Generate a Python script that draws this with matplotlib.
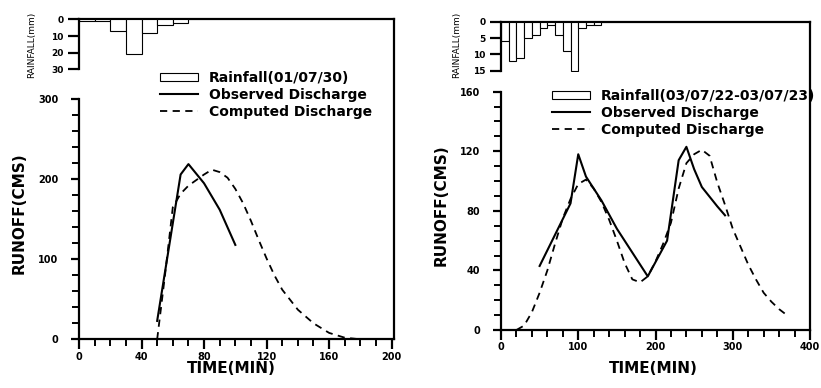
from matplotlib import pyplot as plt
import numpy as np

# event 1 (01/07/30)
rain_t1 = [0, 10, 20, 30, 40, 50, 60]
rain_v1 = [1.3, 1.3, 7, 21, 8, 3.5, 2.5]
obs_t1 = [50, 65, 70, 80, 90, 100]
obs_q1 = [23, 206, 219, 195, 162, 118]
cmp_t1 = [50, 55, 60, 65, 70, 75, 80, 85, 90, 95, 100, 105, 110, 115, 120, 125, 130, 140, 150, 160, 170, 180, 190, 200]
cmp_q1 = [0, 80, 165, 182, 192, 199, 206, 212, 209, 202, 188, 170, 148, 124, 101, 80, 62, 37, 20, 8, 2, 0, 0, 0]

# event 2 (03/07/22-03/07/23)
rain_t2 = [0, 10, 20, 30, 40, 50, 60, 70, 80, 90, 100, 110, 120]
rain_v2 = [6, 12, 11, 5, 4, 2, 1, 4, 9, 15, 2, 1, 1]
obs_t2 = [50, 90, 100, 110, 130, 150, 170, 190, 215, 230, 240, 250, 260, 280, 290]
obs_q2 = [43, 85, 118, 103, 87, 68, 52, 36, 60, 114, 123, 108, 96, 83, 77]
cmp_t2 = [20, 30, 40, 50, 60, 70, 80, 90, 100, 110, 120, 130, 140, 150, 160, 170, 180, 190, 200, 210, 220, 230, 240, 250, 260, 270, 280, 290, 300, 310, 320, 330, 340, 350, 360, 370]
cmp_q2 = [0, 3, 12, 25, 40, 58, 75, 88, 98, 101, 95, 86, 74, 60, 45, 34, 32, 36, 46, 58, 72, 95, 112, 118, 121, 117, 99, 84, 68, 56, 44, 34, 25, 19, 14, 10]

W, H = 821, 388
fig = plt.figure(figsize=(W / 100, H / 100), dpi=100)
plt.rcParams['font.family'] = 'DejaVu Sans'


def px_box(x0, y0, x1, y1):
    # pixel rectangle (top-left origin) -> figure fraction
    return [x0 / W, (H - y1) / H, (x1 - x0) / W, (y1 - y0) / H]


def panel(main_box, rain_box, xlim, ylim, ymax_spine, xmaj, xmin, ymaj, ymin,
          rlim, rticks, rt, rv, ot, oq, ct, cq, rain_label, label_pos, leg_anchor):
    ax = fig.add_axes(px_box(*main_box))
    ax.set_xlim(*xlim)
    ax.set_ylim(*ylim)
    ax.plot(ot, oq, color="black", lw=1.5, label="Observed Discharge")
    ax.plot(ct, cq, color="black", lw=1.3, ls=(0, (4, 3)), label="Computed Discharge")
    for s in ax.spines.values():
        s.set_linewidth(1.6)
    ax.spines["left"].set_bounds(0, ymax_spine)
    ax.set_xticks(np.arange(0, xlim[1] + 1, xmaj))
    ax.set_xticks(np.arange(0, xlim[1] + 1, xmin), minor=True)
    ax.set_yticks(np.arange(0, ymax_spine + 1, ymaj))
    ax.set_yticks(np.arange(0, ymax_spine + 1, ymin), minor=True)
    ax.tick_params(axis="x", which="major", direction="out", length=7, width=1.6, pad=2, labelsize=7)
    ax.tick_params(axis="x", which="minor", direction="out", length=5, width=1.4)
    ax.tick_params(axis="y", which="major", direction="out", length=6, width=1.6, pad=9, labelsize=7)
    ax.tick_params(axis="y", which="minor", direction="out", length=5, width=1.4)
    for lab in ax.get_xticklabels() + ax.get_yticklabels():
        lab.set_fontweight("bold")
    ax.set_xlabel("TIME(MIN)", fontsize=11, fontweight="bold")
    ax.set_ylabel("RUNOFF(CMS)", fontsize=11, fontweight="bold")
    ax.xaxis.set_label_coords(*label_pos[0])
    ax.yaxis.set_label_coords(*label_pos[1])

    rax = fig.add_axes(px_box(*rain_box))
    rax.patch.set_alpha(0)
    bars = rax.bar(rt, rv, width=10, align="edge", color="white", edgecolor="black",
                   linewidth=0.8, label=rain_label)
    rax.set_xlim(*xlim)
    rax.set_ylim(rlim * 1.02, 0)
    rax.spines["left"].set_bounds(rlim, 0)
    for k in ["top", "right", "bottom"]:
        rax.spines[k].set_visible(False)
    rax.spines["left"].set_linewidth(1.6)
    rax.set_xticks([])
    rax.set_yticks(rticks)
    rax.tick_params(axis="y", direction="out", length=8, width=1.6, pad=3, labelsize=6.5)
    for lab in rax.get_yticklabels():
        lab.set_fontweight("bold")
    rax.set_ylabel("RAINFALL(mm)", fontsize=6.5)
    rax.yaxis.set_label_coords(*label_pos[2])

    handles, labels = ax.get_legend_handles_labels()
    fig.legend([bars] + handles, [rain_label] + labels, loc="upper left",
               bbox_to_anchor=(leg_anchor[0] / W, 1 - leg_anchor[1] / H),
               frameon=False, borderpad=0, borderaxespad=0, handlelength=2.7,
               handleheight=0.5, handletextpad=0.8, labelspacing=0.2,
               prop={"size": 10, "weight": "bold"})
    return ax, rax


panel((79, 19.3, 394, 339.3), (79, 19.3, 394, 70.5), (0, 201.5), (0, 400), 300,
      40, 10, 100, 20, 30, [0, 10, 20, 30],
      rain_t1, rain_v1, obs_t1, obs_q1, cmp_t1, cmp_q1, "Rainfall(01/07/30)",
      [(0.485, -0.068), (-0.165, 0.395), (-0.135, 0.5)], (160, 71))

panel((501, 21.7, 810, 330), (501, 21.7, 810, 71.7), (0, 400), (0, 207), 160,
      100, 20, 40, 10, 15, [0, 5, 10, 15],
      rain_t2, rain_v2, obs_t2, obs_q2, cmp_t2, cmp_q2, "Rainfall(03/07/22-03/07/23)",
      [(0.493, -0.10), (-0.168, 0.405), (-0.128, 0.53)], (552, 89))

fig.savefig("out.png", dpi=100)
